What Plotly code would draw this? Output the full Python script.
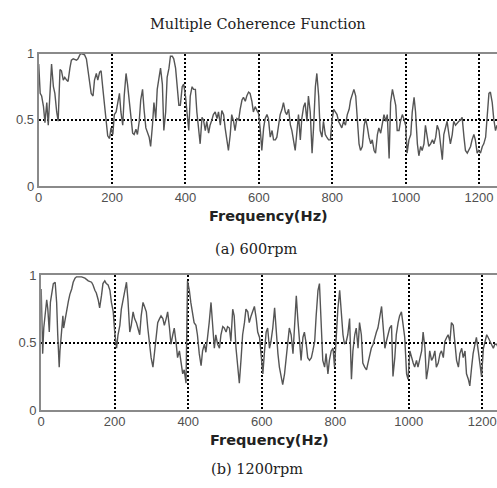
import plotly.graph_objects as go

# ---- (a) 600 rpm ----
freq_a = [0, 4, 8, 13, 17, 22, 26, 31, 35, 40, 44, 49, 53, 58, 62, 67, 71, 76, 80, 85, 89, 94, 103, 107, 112, 116, 125, 130, 134, 139, 143, 148, 152, 157, 161, 166, 170, 175, 179, 184, 188, 193, 197, 202, 206, 211, 215, 220, 224, 229, 233, 238, 242, 247, 251, 256, 260, 265, 269, 274, 278, 283, 287, 292, 301, 305, 310, 314, 319, 323, 328, 332, 337, 341, 346, 350, 355, 359, 364, 368, 373, 377, 382, 386, 391, 395, 400, 404, 409, 413, 418, 422,
          427, 431, 436, 440, 445, 449, 454, 458, 463, 467, 472, 476, 481, 486, 490, 495, 499, 504, 508, 513, 517, 522, 526, 531, 535, 540, 545, 549, 554, 558, 563, 567, 572, 576, 581, 585, 590, 595, 599, 604, 608, 613, 617, 622, 626, 631, 636, 640, 645, 649, 654, 658, 663, 667, 672, 676, 681, 686, 690, 695, 699, 704, 708, 713, 717, 722, 726, 731, 735, 740, 745, 749, 754, 758, 763, 767, 772, 776, 781, 785, 790, 795, 799, 804, 808, 813, 817, 822, 826, 831, 836,
          841, 846, 850, 855, 859, 864, 868, 873, 877, 882, 887, 891, 896, 900, 905, 909, 914, 918, 923, 927, 932, 936, 941, 946, 950, 955, 959, 964, 968, 973, 977, 982, 986, 991, 995, 1000, 1004, 1009, 1014, 1018, 1023, 1027, 1032, 1036, 1041, 1045, 1050, 1054, 1059, 1063, 1068, 1073, 1077, 1082, 1086, 1091, 1095, 1100, 1104, 1109, 1113, 1118, 1122, 1127, 1131, 1136, 1141, 1145, 1150, 1154, 1159, 1163, 1168, 1172, 1177, 1181, 1186, 1190, 1195, 1199, 1204, 1209, 1213, 1218, 1222, 1227, 1231, 1236, 1240, 1245, 1249]
coh_a = [0.92, 0.70, 0.68, 0.60, 0.48, 0.63, 0.46, 0.73, 0.92, 0.75, 0.70, 0.56, 0.49, 0.88, 0.87, 0.80, 0.82, 0.80, 0.79, 0.89, 0.95, 0.96, 0.95, 0.96, 0.99, 1.0, 0.99, 0.96, 0.87, 0.77, 0.70, 0.68, 0.80, 0.85, 0.80, 0.86, 0.87, 0.73, 0.61, 0.51, 0.38, 0.36, 0.44, 0.39, 0.54, 0.56, 0.64, 0.70, 0.56, 0.46, 0.68, 0.85, 0.77, 0.65, 0.51, 0.40, 0.39, 0.43, 0.39, 0.49, 0.65, 0.73, 0.58, 0.44, 0.37, 0.30, 0.46, 0.63, 0.51, 0.73, 0.82, 0.89, 0.77, 0.42, 0.56, 0.82, 0.89, 0.98, 0.98, 0.96, 0.89, 0.77, 0.61, 0.61, 0.75, 0.77, 0.68, 0.56, 0.42, 0.68, 0.75, 0.73,
         0.73, 0.56, 0.42, 0.32, 0.52, 0.50, 0.42, 0.49, 0.40, 0.46, 0.50, 0.54, 0.56, 0.51, 0.56, 0.46, 0.57, 0.54, 0.44, 0.32, 0.27, 0.39, 0.54, 0.49, 0.42, 0.51, 0.50, 0.58, 0.65, 0.67, 0.64, 0.68, 0.71, 0.70, 0.64, 0.56, 0.60, 0.57, 0.55, 0.42, 0.27, 0.44, 0.51, 0.54, 0.51, 0.37, 0.42, 0.35, 0.35, 0.37, 0.46, 0.54, 0.58, 0.63, 0.56, 0.54, 0.58, 0.46, 0.42, 0.32, 0.27, 0.42, 0.54, 0.35, 0.51, 0.60, 0.63, 0.49, 0.68, 0.56, 0.25, 0.44, 0.75, 0.85, 0.68, 0.42, 0.37, 0.49, 0.39, 0.37, 0.35, 0.35, 0.49, 0.58, 0.56, 0.54, 0.49, 0.46, 0.44, 0.49, 0.46,
         0.54, 0.58, 0.65, 0.70, 0.73, 0.68, 0.49, 0.32, 0.27, 0.30, 0.46, 0.51, 0.44, 0.37, 0.32, 0.35, 0.27, 0.25, 0.39, 0.44, 0.40, 0.46, 0.54, 0.49, 0.54, 0.21, 0.63, 0.73, 0.68, 0.61, 0.42, 0.42, 0.49, 0.54, 0.51, 0.46, 0.25, 0.35, 0.39, 0.56, 0.67, 0.56, 0.32, 0.23, 0.30, 0.27, 0.32, 0.46, 0.37, 0.30, 0.32, 0.35, 0.32, 0.37, 0.46, 0.42, 0.32, 0.20, 0.39, 0.46, 0.49, 0.39, 0.32, 0.39, 0.49, 0.46, 0.48, 0.49, 0.50, 0.52, 0.37, 0.27, 0.25, 0.27, 0.30, 0.35, 0.39, 0.35, 0.25, 0.27, 0.25, 0.30, 0.32, 0.37, 0.49, 0.70, 0.71, 0.63, 0.51, 0.42, 0.46]

# ---- (b) 1200 rpm ----
freq_b = [0, 4, 7, 11, 15, 18, 22, 25, 29, 33, 38, 42, 45, 49, 51, 56, 59, 61, 65, 69, 74, 78, 83, 87, 92, 96, 101, 110, 119, 128, 137, 141, 146, 150, 155, 159, 164, 168, 173, 177, 182, 187, 191, 196, 200, 205, 209, 214, 218, 223, 227, 232, 236, 241, 245, 250, 254, 259, 263, 268, 272, 277, 281, 286, 290, 295, 299, 304, 308, 313, 317, 322, 326, 331, 335, 340, 344, 349, 353, 358, 362, 367, 371, 376, 380, 385, 389, 394, 398, 403, 407, 412, 416, 421,
          425, 430, 435, 439, 444, 448, 453, 457, 462, 466, 471, 475, 480, 485, 489, 494, 498, 503, 507, 512, 516, 521, 525, 530, 535, 539, 544, 548, 553, 557, 562, 566, 571, 575, 580, 585, 589, 594, 598, 603, 607, 612, 616, 621, 625, 630, 635, 639, 644, 648, 653, 657, 662, 666, 671, 675, 680, 685, 689, 694, 698, 703, 707, 712, 716, 721, 725, 730, 735, 739, 744, 748, 753, 757, 762, 766, 771, 775, 780, 784, 789, 794, 798, 803, 807, 812, 816, 821, 825, 830, 834,
          839, 844, 848, 853, 857, 862, 866, 871, 875, 880, 885, 889, 894, 898, 903, 907, 912, 916, 921, 926, 930, 935, 939, 944, 948, 953, 957, 962, 966, 971, 975, 980, 985, 989, 994, 998, 1003, 1007, 1012, 1016, 1021, 1025, 1030, 1035, 1039, 1044, 1048, 1053, 1057, 1062, 1066, 1071, 1075, 1080, 1085, 1089, 1094, 1098, 1103, 1107, 1112, 1116, 1121, 1125, 1130, 1135, 1139, 1144, 1148, 1153, 1157, 1162, 1166, 1171, 1175, 1180, 1184, 1189, 1194, 1198, 1203, 1207, 1212, 1216, 1221, 1225, 1230, 1234, 1239, 1244]
coh_b = [0.90, 0.42, 0.61, 0.73, 0.82, 0.75, 0.58, 0.80, 0.87, 0.94, 0.95, 0.80, 0.56, 0.32, 0.44, 0.65, 0.70, 0.61, 0.68, 0.75, 0.81, 0.86, 0.90, 0.95, 0.98, 0.99, 0.99, 0.99, 0.98, 0.96, 0.95, 0.93, 0.89, 0.87, 0.82, 0.76, 0.85, 0.94, 0.96, 0.94, 0.93, 0.89, 0.80, 0.73, 0.58, 0.46, 0.56, 0.63, 0.75, 0.82, 0.89, 0.95, 0.82, 0.58, 0.63, 0.73, 0.68, 0.65, 0.61, 0.56, 0.70, 0.80, 0.77, 0.73, 0.61, 0.49, 0.39, 0.32, 0.44, 0.56, 0.65, 0.68, 0.70, 0.68, 0.63, 0.68, 0.73, 0.61, 0.49, 0.56, 0.61, 0.50, 0.39, 0.44, 0.35, 0.27, 0.30, 0.20, 0.96, 0.89, 0.80, 0.70, 0.65, 0.63,
         0.56, 0.42, 0.33, 0.44, 0.49, 0.43, 0.54, 0.65, 0.80, 0.63, 0.46, 0.56, 0.49, 0.46, 0.56, 0.62, 0.61, 0.58, 0.62, 0.61, 0.51, 0.75, 0.70, 0.46, 0.32, 0.20, 0.39, 0.56, 0.65, 0.75, 0.73, 0.65, 0.70, 0.73, 0.77, 0.68, 0.58, 0.54, 0.44, 0.27, 0.42, 0.58, 0.61, 0.46, 0.51, 0.61, 0.76, 0.58, 0.42, 0.32, 0.25, 0.19, 0.27, 0.39, 0.49, 0.61, 0.56, 0.42, 0.61, 0.85, 0.68, 0.46, 0.37, 0.54, 0.58, 0.49, 0.39, 0.37, 0.39, 0.44, 0.51, 0.70, 0.89, 0.94, 0.61, 0.37, 0.32, 0.42, 0.27, 0.37, 0.44, 0.46, 0.32, 0.56, 0.75, 0.89, 0.73, 0.56, 0.49, 0.51, 0.56,
         0.68, 0.23, 0.44, 0.56, 0.61, 0.46, 0.65, 0.56, 0.35, 0.32, 0.30, 0.35, 0.42, 0.46, 0.49, 0.54, 0.58, 0.61, 0.70, 0.77, 0.63, 0.46, 0.51, 0.56, 0.61, 0.63, 0.25, 0.39, 0.56, 0.65, 0.70, 0.73, 0.63, 0.54, 0.27, 0.23, 0.44, 0.39, 0.35, 0.32, 0.37, 0.32, 0.37, 0.44, 0.58, 0.46, 0.23, 0.32, 0.44, 0.37, 0.39, 0.44, 0.32, 0.35, 0.42, 0.44, 0.39, 0.51, 0.54, 0.56, 0.51, 0.65, 0.63, 0.51, 0.37, 0.32, 0.42, 0.46, 0.39, 0.44, 0.27, 0.23, 0.18, 0.32, 0.42, 0.49, 0.54, 0.44, 0.35, 0.25, 0.46, 0.51, 0.56, 0.54, 0.51, 0.49, 0.46, 0.49, 0.49, 0.46]

x_ticks = [0, 200, 400, 600, 800, 1000, 1200]
y_ticks = [0, 0.5, 1]
y_ticktext = ["0", "0.5", "1"]

title_text = "Multiple Coherence Function"
xlabel_text = "Frequency(Hz)"
caption_a = "(a) 600rpm"
caption_b = "(b) 1200rpm"

W, H = 497, 488
line_color = "#555555"
frame_color = "#8a8a8a"
tick_font = dict(family="Liberation Sans, Arial, sans-serif", size=13, color="#505050")

fig = go.Figure()
fig.add_trace(go.Scatter(x=freq_a, y=coh_a, mode="lines", xaxis="x", yaxis="y",
                         line=dict(color=line_color, width=1.4), showlegend=False))
fig.add_trace(go.Scatter(x=freq_b, y=coh_b, mode="lines", xaxis="x2", yaxis="y2",
                         line=dict(color=line_color, width=1.4), showlegend=False))

def xax(domain, rng, anchor):
    return dict(domain=domain, range=rng, anchor=anchor, tickvals=x_ticks,
                showgrid=True, gridcolor="black", griddash="2px,2px", gridwidth=1.5,
                showline=True, linecolor=frame_color, linewidth=2, mirror=True,
                ticks="", zeroline=False, tickfont=tick_font, fixedrange=True,
                ticklabeloverflow="allow", ticklabelstandoff=-2)

def yax(domain, anchor):
    return dict(domain=domain, range=[0, 1], anchor=anchor, tickvals=y_ticks,
                ticktext=y_ticktext, showgrid=True, gridcolor="black", griddash="2px,2px",
                gridwidth=1.5, showline=True, linecolor=frame_color, linewidth=2,
                mirror=False, ticks="", zeroline=False, tickfont=tick_font, fixedrange=True,
                ticklabeloverflow="allow")

fig.update_layout(
    width=W, height=H,
    margin=dict(l=0, r=0, t=0, b=0),
    paper_bgcolor="white", plot_bgcolor="white",
    xaxis=xax([35 / W, 1.0], [0, 1249], "y"),
    yaxis=yax([1 - 185 / H, 1 - 48 / H], "x"),
    xaxis2=xax([37.5 / W, 1.0], [0, 1240], "y2"),
    yaxis2=yax([1 - 416 / H, 1 - 277 / H], "x2"),
)

serif = "DejaVu Serif, Liberation Serif, serif"
sans_b = "DejaVu Sans, Liberation Sans, sans-serif"
anns = [
    (title_text, 256, 18, serif, 14.5, False),
    (xlabel_text, 267, 216, sans_b, 14.5, True),
    (caption_a, 254, 250, serif, 14.5, False),
    (xlabel_text, 268, 447, sans_b, 14.5, True),
    (caption_b, 255, 477, serif, 14.5, False),
]
for txt, cx, cy, fam, sz, bold in anns:
    fig.add_annotation(text=f"<b>{txt}</b>" if bold else txt, x=cx / W, y=1 - cy / H,
                       xref="paper", yref="paper", xanchor="center", yanchor="middle",
                       showarrow=False, font=dict(family=fam, size=sz, color="#222222"))

fig.write_html("out.html", config={"displayModeBar": False},
               post_script="document.body.style.margin='0';document.body.style.overflow='hidden';")
